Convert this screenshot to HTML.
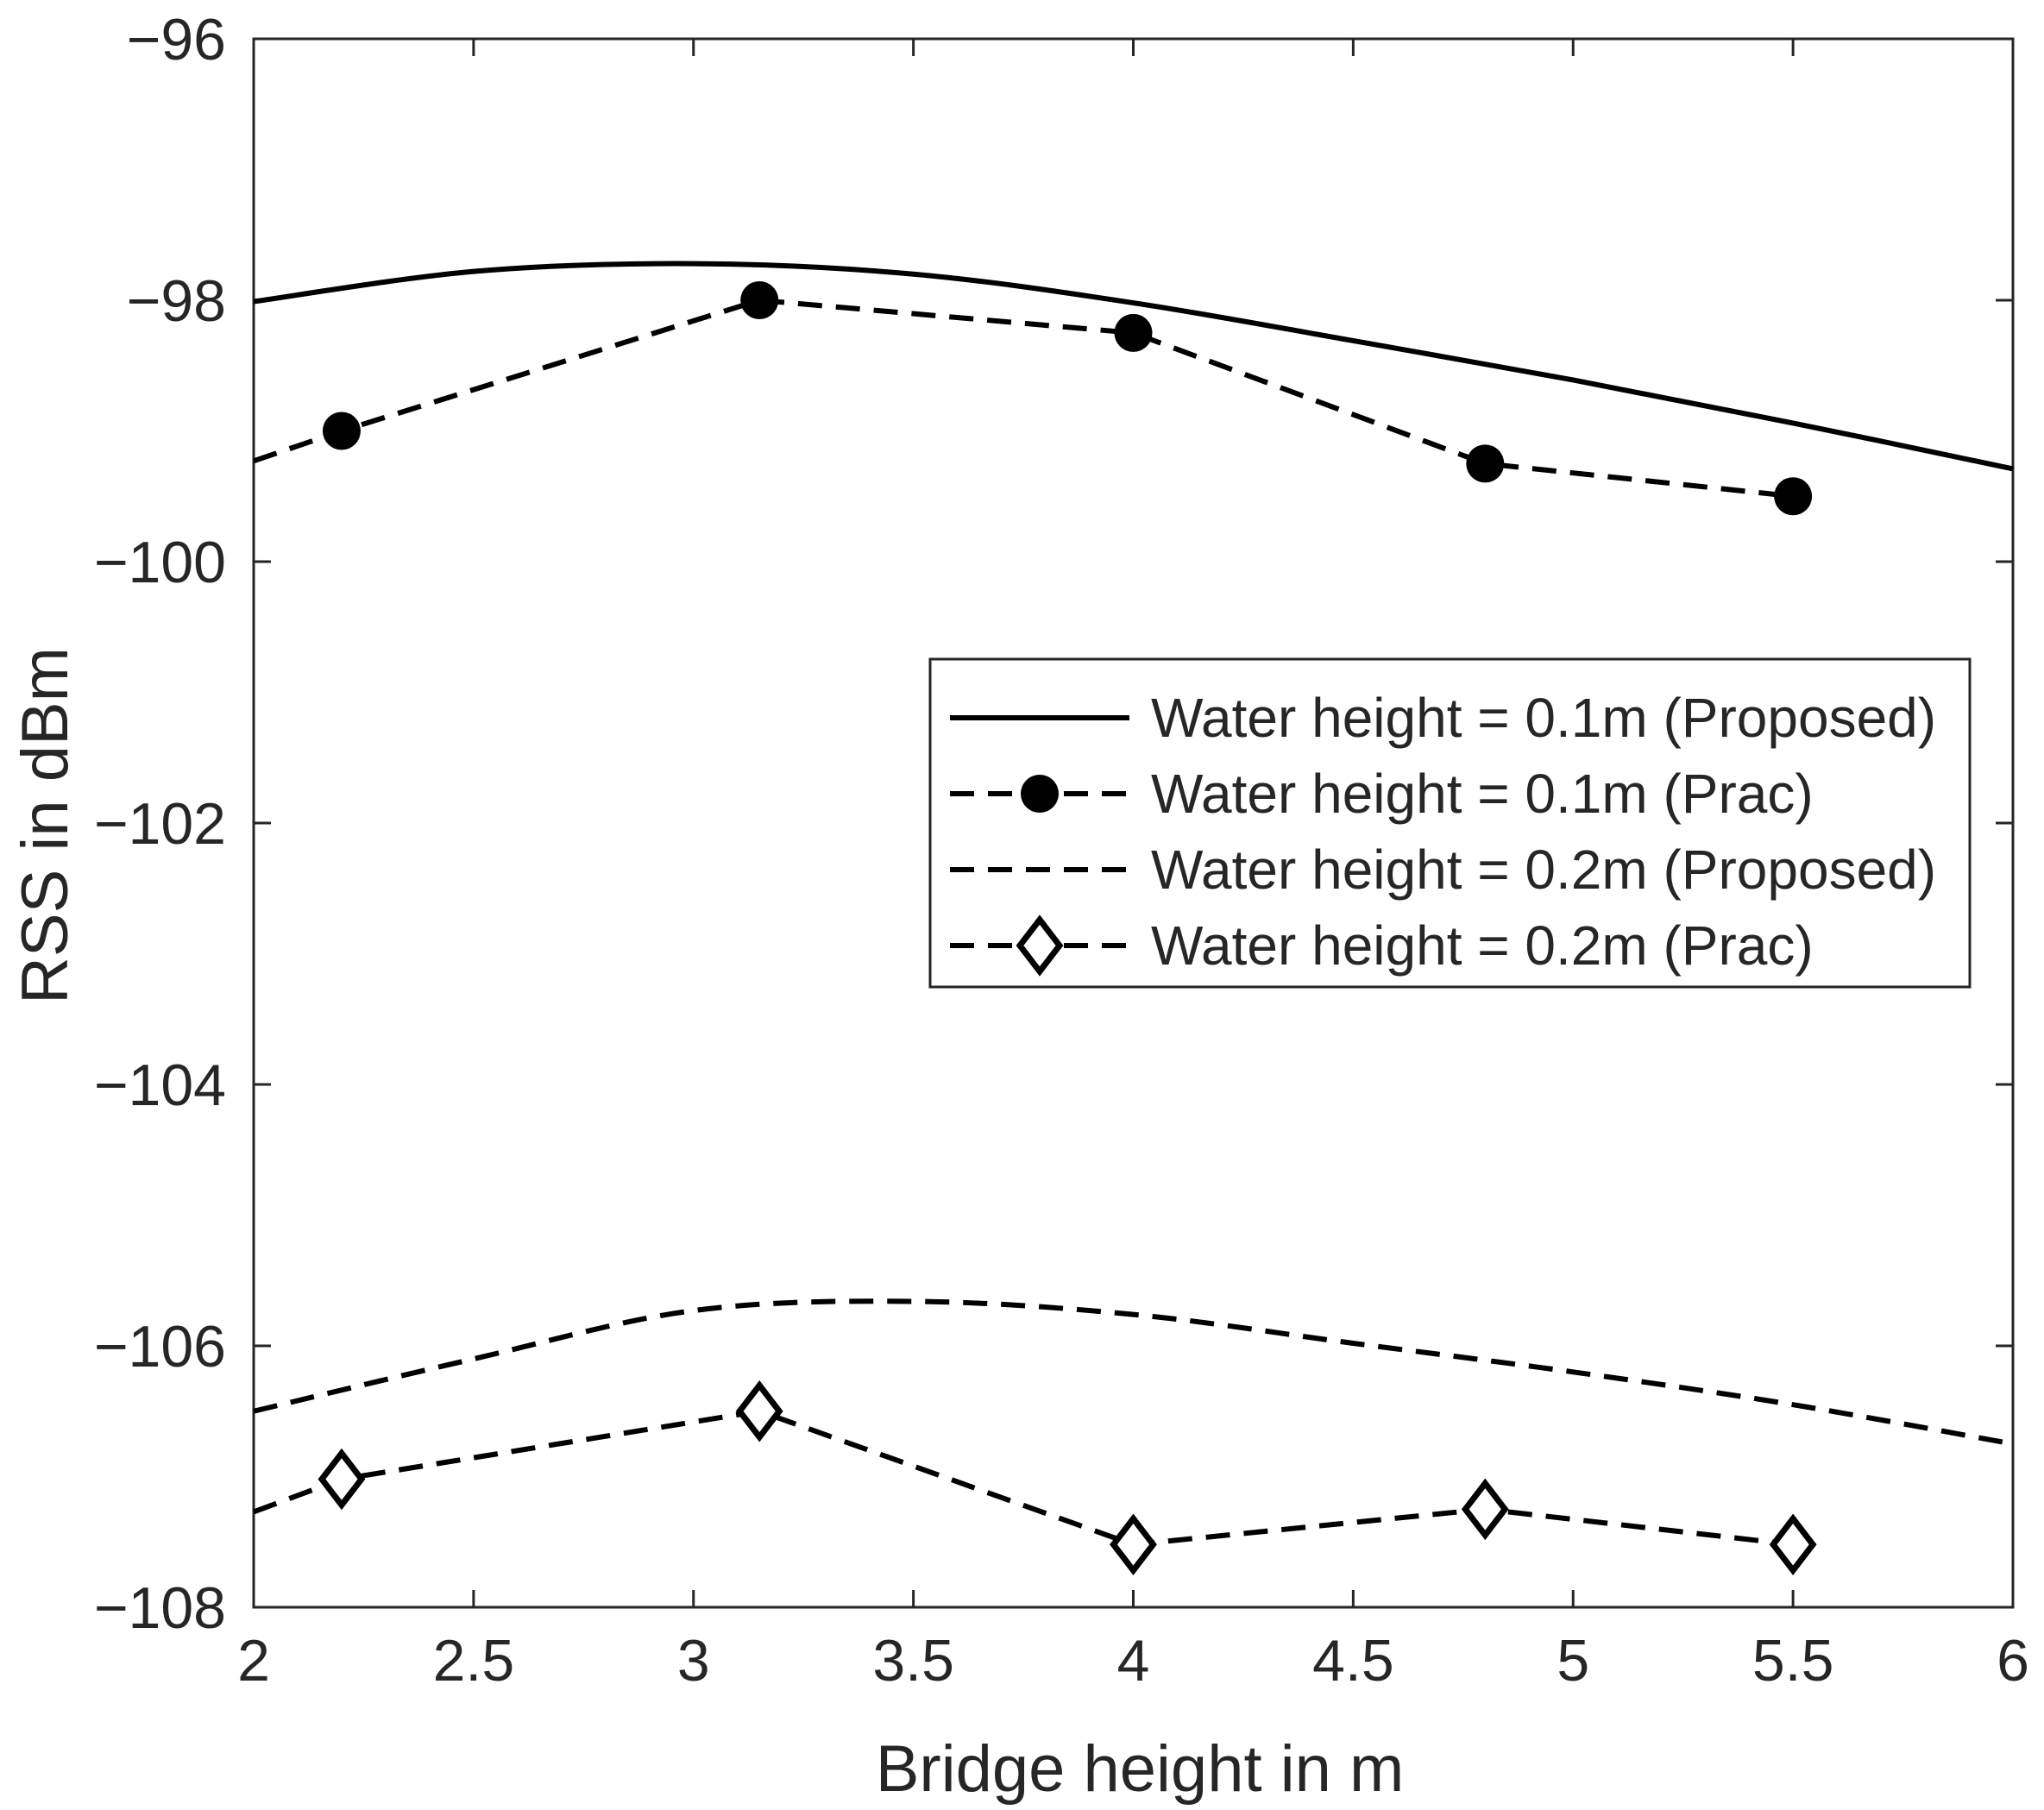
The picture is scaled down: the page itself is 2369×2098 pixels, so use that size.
<!DOCTYPE html>
<html><head><meta charset="utf-8"><style>
body{margin:0;background:#fff}
svg{display:block}
text{font-family:"Liberation Sans",Arial,sans-serif;fill:#262626}
</style></head><body>
<svg id="chart" width="2369" height="2098" viewBox="0 0 2369 2098" xmlns="http://www.w3.org/2000/svg">
<g id="plot"></g>
</svg>
<script>
const xTicks=[2,2.5,3,3.5,4,4.5,5,5.5,6];
const yTicks=[-96,-98,-100,-102,-104,-106,-108];
const propX=[2,2.5,3,3.5,4,4.5,5,5.5,6];
const prop01=[-98.01,-97.78,-97.72,-97.8,-98.02,-98.31,-98.61,-98.94,-99.29];
const prop02=[-106.5,-106.1,-105.73,-105.66,-105.76,-105.98,-106.2,-106.45,-106.75];
const pracX=[2,2.2,3.15,4,4.8,5.5];
const prac01=[-99.23,-99,-98,-98.25,-99.25,-99.5];
const prac02=[-107.27,-107.02,-106.5,-107.52,-107.25,-107.52];
const legendLabels=["Water height = 0.1m (Proposed)","Water height = 0.1m (Prac)","Water height = 0.2m (Proposed)","Water height = 0.2m (Prac)"];

const L=294,R=2333,T=45,B=1863;
const sx=v=>L+(v-2)/4*(R-L);
const sy=v=>T+(-96-v)/12*(B-T);
const NS="http://www.w3.org/2000/svg";
const g=document.getElementById('plot');
function mk(tag,attrs,parent){const e=document.createElementNS(NS,tag);for(const k in attrs)e.setAttribute(k,attrs[k]);(parent||g).appendChild(e);return e;}

const frame=mk('rect',{x:L,y:T,width:R-L,height:B-T,fill:'none',stroke:'#262626','stroke-width':3});



xTicks.forEach(v=>{
  const x=sx(v);
  const t1=mk('line',{x1:x,x2:x,y1:B,y2:B-20,stroke:'#262626','stroke-width':3});
  
  
  const t2=mk('line',{x1:x,x2:x,y1:T,y2:T+20,stroke:'#262626','stroke-width':3});
  
  
  const tx=mk('text',{x:x,y:B+85,'text-anchor':'middle','font-size':68});
  tx.textContent=String(v);
  
  
});
yTicks.forEach(v=>{
  const y=sy(v);
  const t1=mk('line',{x1:L,x2:L+20,y1:y,y2:y,stroke:'#262626','stroke-width':3});
  
  
  const t2=mk('line',{x1:R,x2:R-20,y1:y,y2:y,stroke:'#262626','stroke-width':3});
  
  
  const tx=mk('text',{x:L-32,y:y+24,'text-anchor':'end','font-size':68});
  tx.textContent='\u2212'+String(-v);
  
  
});

function smooth(xs,ys){
  const p=xs.map((x,i)=>[sx(x),sy(ys[i])]);
  let d='M'+p[0][0]+','+p[0][1];
  for(let i=0;i<p.length-1;i++){
    const p0=p[Math.max(0,i-1)],p1=p[i],p2=p[i+1],p3=p[Math.min(p.length-1,i+2)];
    const c1=[p1[0]+(p2[0]-p0[0])/6,p1[1]+(p2[1]-p0[1])/6];
    const c2=[p2[0]-(p3[0]-p1[0])/6,p2[1]-(p3[1]-p1[1])/6];
    d+=' C'+c1+' '+c2+' '+p2;
  }
  return d;
}
function poly(xs,ys){return xs.map((x,i)=>(i?'L':'M')+sx(x)+','+sy(ys[i])).join(' ');}

const SW=6;
const c1=mk('path',{d:smooth(propX,prop01),fill:'none',stroke:'#000','stroke-width':SW});


const c2=mk('path',{d:smooth(propX,prop02),fill:'none',stroke:'#000','stroke-width':SW,'stroke-dasharray':'28 16'});


const c3=mk('path',{d:poly(pracX,prac01),fill:'none',stroke:'#000','stroke-width':SW,'stroke-dasharray':'28 16'});


const c4=mk('path',{d:poly(pracX,prac02),fill:'none',stroke:'#000','stroke-width':SW,'stroke-dasharray':'28 16'});



function diamond(cx,cy){return `M${cx},${cy-30} L${cx+23},${cy} L${cx},${cy+30} L${cx-23},${cy} Z`;}
pracX.forEach((x,i)=>{
  if(i===0)return;
  const m=mk('circle',{cx:sx(x),cy:sy(prac01[i]),r:22,fill:'#000'});
  
  
  const d=mk('path',{d:diamond(sx(x),sy(prac02[i])),fill:'#fff',stroke:'#000','stroke-width':7});
  
  
});

const lg=mk('g',{});


const lb=mk('rect',{x:1078,y:764,width:1205,height:380,fill:'#fff',stroke:'#262626','stroke-width':3},lg);


const rows=[832,920,1008,1096];
legendLabels.forEach((lab,i)=>{
  const y=rows[i];
  const ln=mk('line',{x1:1101,x2:1309,y1:y,y2:y,stroke:'#000','stroke-width':SW},lg);
  if(i>0)ln.setAttribute('stroke-dasharray','28 16');
  
  
  if(i===1){const m=mk('circle',{cx:1205,cy:y,r:22,fill:'#000'},lg);
    
    }
  if(i===3){const m=mk('path',{d:diamond(1205,y),fill:'#fff',stroke:'#000','stroke-width':7},lg);
    
    }
  const t=mk('text',{x:1334,y:y+22,'font-size':64},lg);
  t.textContent=lab;
  
  
});

const xl=mk('text',{x:1321,y:2076,'text-anchor':'middle','font-size':76});
xl.textContent='Bridge height in m';


const yl=mk('text',{x:0,y:0,'text-anchor':'middle','font-size':76,transform:'translate(78,957) rotate(-90)'});
yl.textContent='RSS in dBm';


</script>
</body></html>
